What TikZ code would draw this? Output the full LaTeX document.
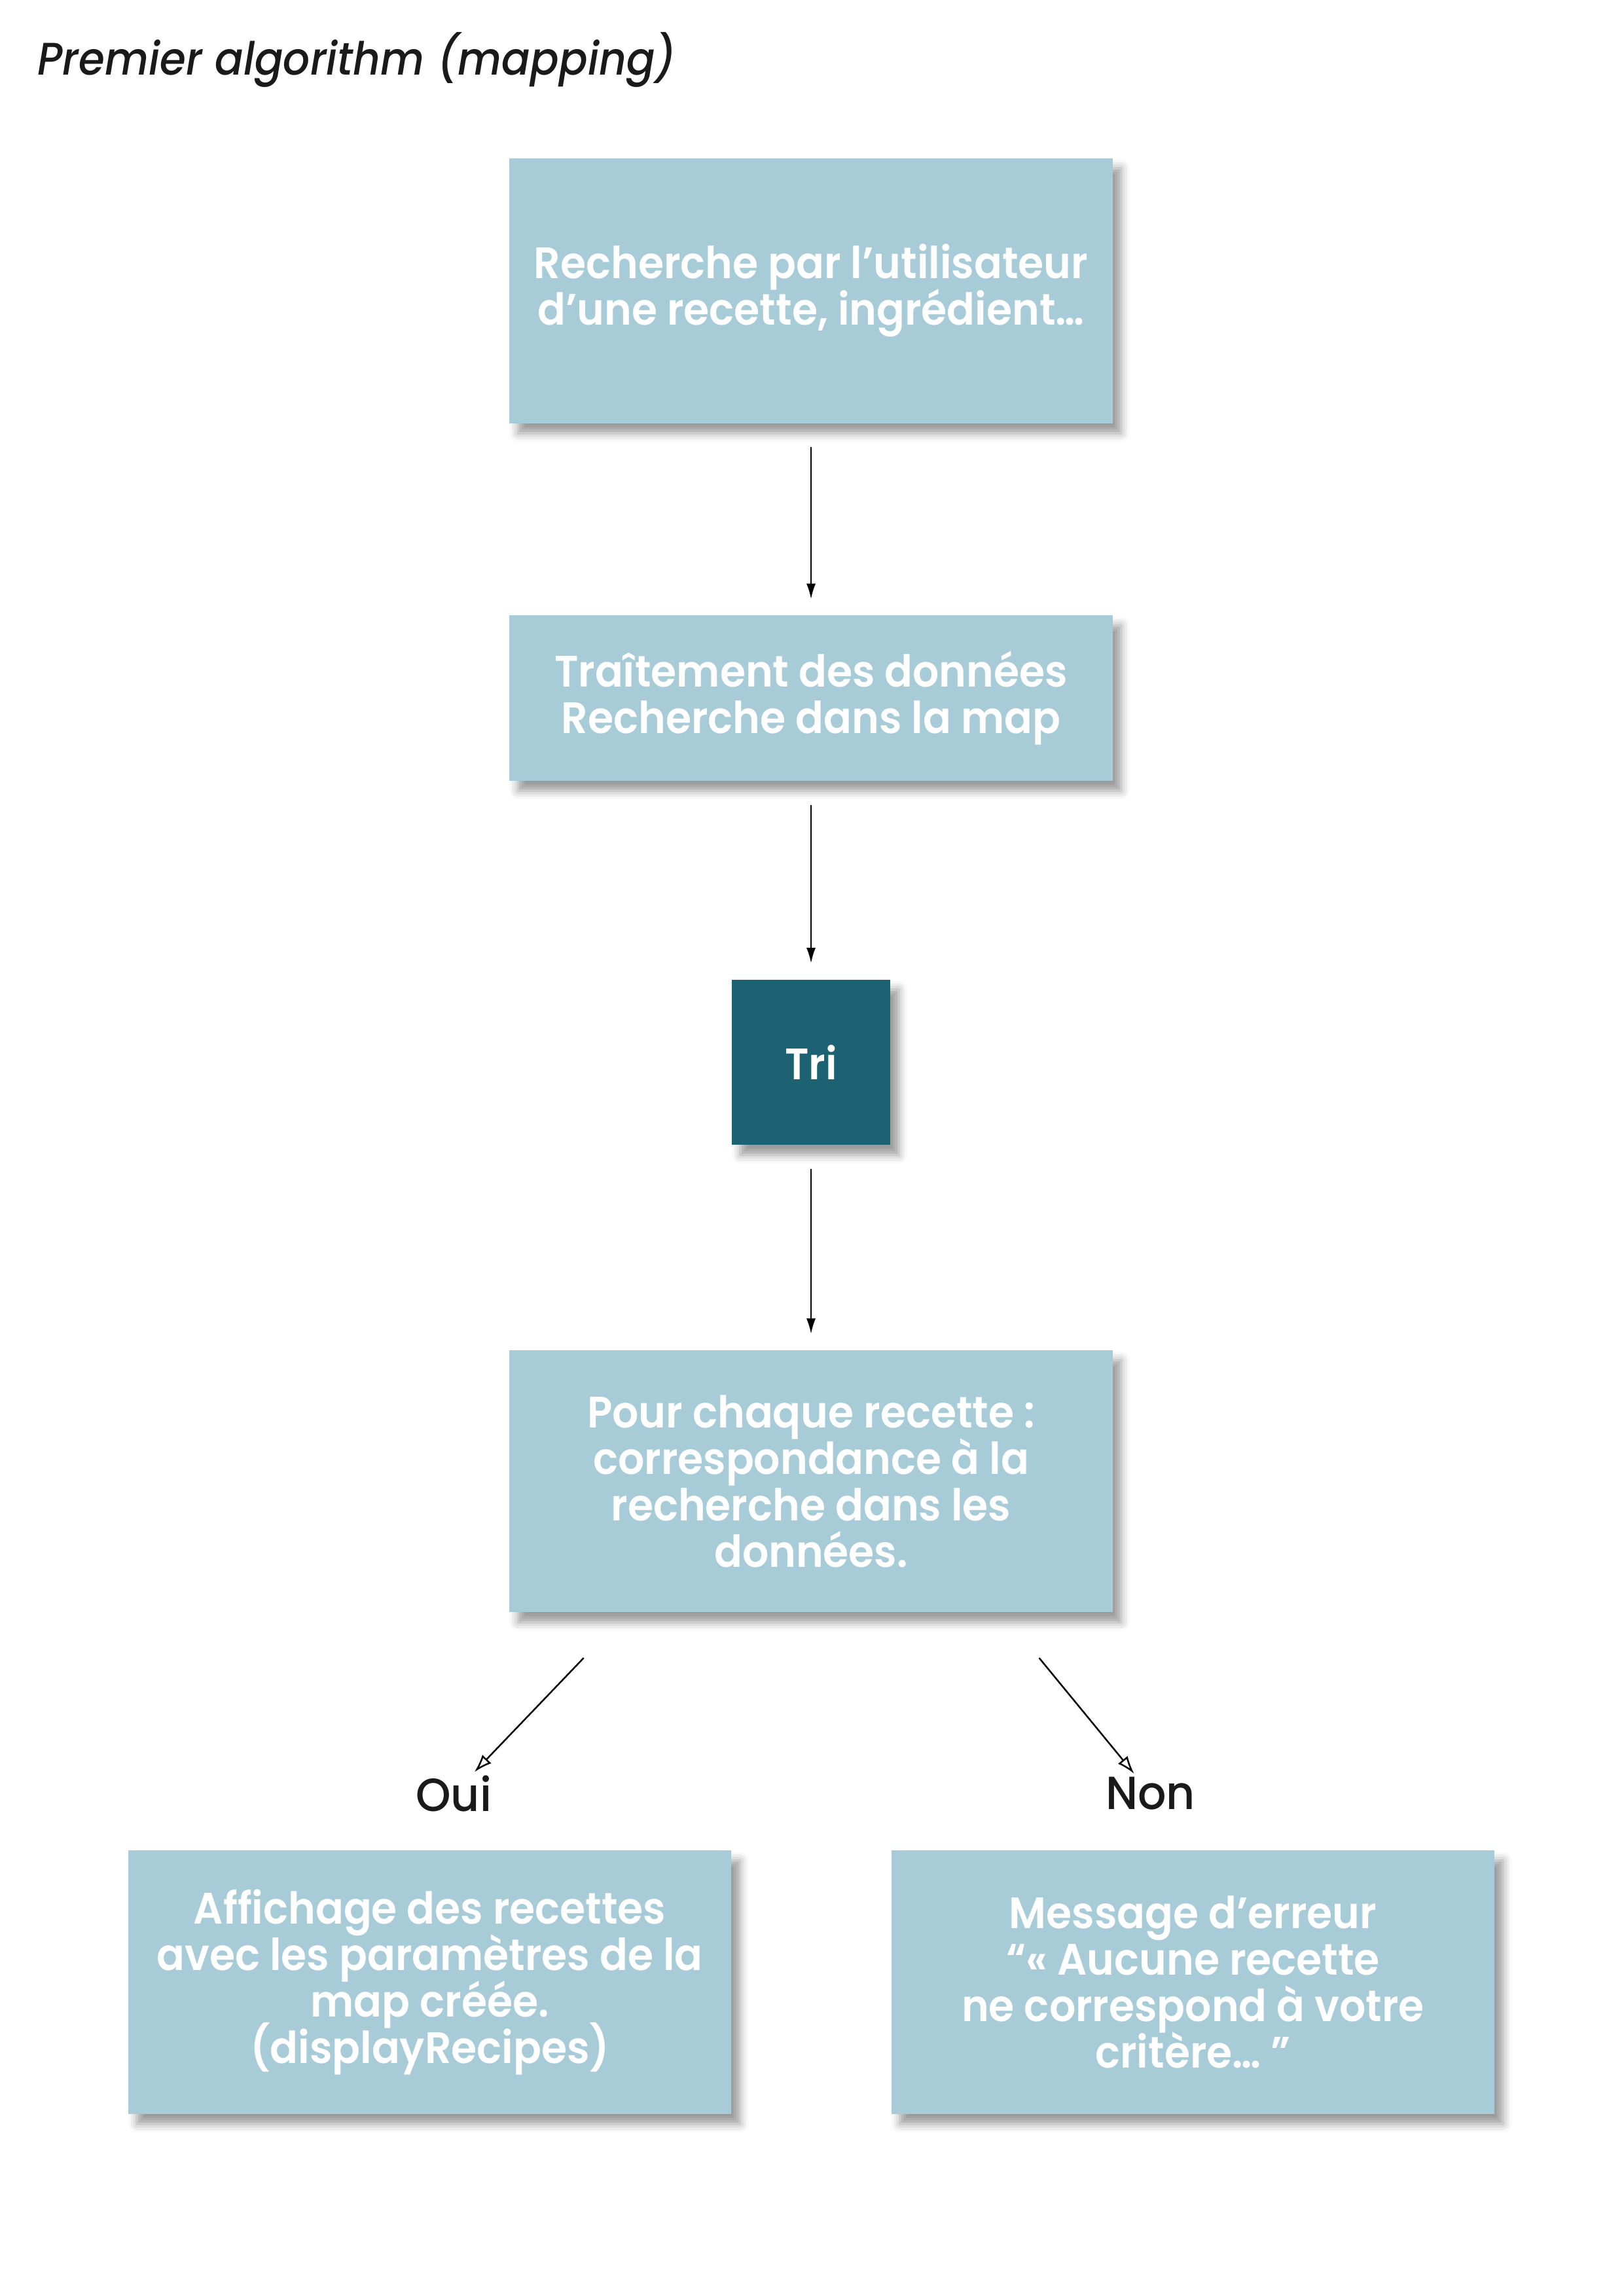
\documentclass[tikz,border=0pt]{standalone}
\usepackage{fontspec}
\setmainfont{Poppins}[FakeStretch=0.94, BoldFont={Poppins SemiBold}, BoldItalicFont={Poppins SemiBold Italic}]
\newfontfamily\titlefont{Poppins Medium Italic}[FakeStretch=0.925]
\newfontfamily\answerfont{Poppins Medium}[FakeStretch=0.96]
\usepackage{tikz}
\usetikzlibrary{positioning, arrows.meta, shadows.blur}
\definecolor{boxblue}{HTML}{A8CBD8}
\definecolor{triblue}{HTML}{1D6273}
\definecolor{ink}{HTML}{1A1A1A}
\setlength{\lineskiplimit}{-100pt}

\begin{document}
\begin{tikzpicture}[auto, node distance = 5cm and 5cm, on grid, semithick, box/.style = {rectangle, fill = boxblue, text = white, align = center, minimum width = 7.8cm, inner sep = 2pt, font = \fontsize{16.2}{17.1}\selectfont\bfseries, blur shadow = {shadow xshift = 1.1mm, shadow yshift = -1.3mm, shadow blur radius = 1.1mm, shadow opacity = 40}}, tribox/.style = {box, fill = triblue, minimum width = 2.05cm, minimum height = 2.14cm}, answer/.style = {text = ink, inner sep = 1pt, font = \answerfont\fontsize{17.1}{17.1}\selectfont}, flow/.style = {-{Latex[length = 2mm, width = 1.2mm]}, shorten < = 0.3cm, shorten > = 0.2cm}, branch/.style = {-{Latex[open, length = 2.3mm, width = 1.6mm]}}]
\useasboundingbox (0,0) rectangle (21,-29.7);
\node[anchor = base west, text = ink, font = \titlefont\fontsize{16.8}{18}\selectfont] (title) at (0.36,-0.97) {Premier algorithm (mapping)};
\node[box, minimum height = 3.43cm] (search) at (10.49,-3.76) {Recherche par l’utilisateur\\d’une recette, ingrédient…};
\node[box, minimum height = 2.14cm] (process) [below = 5.27cm of search] {Traîtement des données\\Recherche dans la map};
\node[tribox] (tri) [below = 4.71cm of process] {Tri};
\node[box, minimum height = 3.39cm] (match) [below = 5.42cm of tri] {Pour chaque recette :\\correspondance à la\\recherche dans les\\données.};
\node[answer] (oui) [below left = 4.04cm and 4.62cm of match] {Oui};
\node[answer] (non) [below right = 4.04cm and 4.39cm of match] {Non};
\node[box, minimum height = 3.41cm] (display) [below left = 6.48cm and 4.93cm of match] {Affichage des recettes\\avec les paramètres de la\\map créée.\\(displayRecipes)};
\node[box, minimum height = 3.41cm] (error) [below right = 6.48cm and 4.94cm of match] {Message d’erreur\\“« Aucune recette\\ne correspond à votre\\critère… ”};
\coordinate (ouiStart) at ([shift = {(-2.94cm,-0.58cm)}]match.south);
\coordinate (nonStart) at ([shift = {(2.95cm,-0.58cm)}]match.south);
\path (search) edge[flow] (process)
(process) edge[flow] (tri)
(tri) edge[flow] (match);
\draw[branch] (ouiStart) -- (oui);
\draw[branch] (nonStart) -- (non);
\end{tikzpicture}
\end{document}
